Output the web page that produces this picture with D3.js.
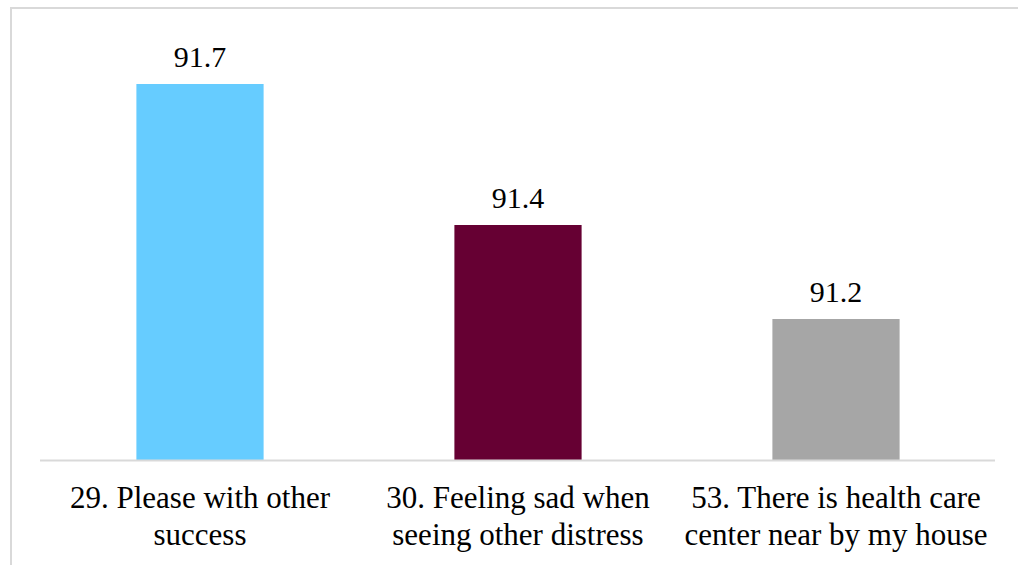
<!DOCTYPE html>
<html>
<head>
<meta charset="utf-8">
<script src="https://cdn.jsdelivr.net/npm/d3@7"></script>
<style>
  html, body { margin: 0; padding: 0; background: #fff; overflow: hidden; }
  svg { display: block; }
  text { font-family: "Liberation Serif", "Times New Roman", serif; fill: #000; }
</style>
</head>
<body>
<svg id="chart" width="1018" height="565"></svg>
<script>
// Share of respondents agreeing with each statement (%)
const categories = [
  ["29. Please with other", "success"],
  ["30. Feeling sad when", "seeing other distress"],
  ["53. There is health care", "center near by my house"]
];
const values = [91.7, 91.4, 91.2];
const colors = ["#66ccff", "#660033", "#a6a6a6"];

const svg = d3.select("#chart");

// Chart frame (continues past the right and bottom edges)
svg.append("rect")
  .attr("x", 11).attr("y", 8)
  .attr("width", 1040).attr("height", 600)
  .attr("fill", "#fff")
  .attr("stroke", "#d9d9d9").attr("stroke-width", 2);

const plot = { left: 41, right: 995, top: 37, bottom: 460 };

const x = d3.scaleBand()
  .domain(d3.range(values.length))
  .range([plot.left, plot.right])
  .paddingInner(0.6)
  .paddingOuter(0.3);

const y = d3.scaleLinear()
  .domain([90.9, 91.8])
  .range([plot.bottom, plot.top]);

// Bars
svg.append("g").selectAll("rect")
  .data(values)
  .join("rect")
  .attr("x", (d, i) => x(i))
  .attr("y", d => y(d))
  .attr("width", x.bandwidth())
  .attr("height", d => y.range()[0] - y(d))
  .attr("fill", (d, i) => colors[i]);

// Category axis line
svg.append("line")
  .attr("x1", plot.left - 1).attr("x2", plot.right)
  .attr("y1", plot.bottom + 0.5).attr("y2", plot.bottom + 0.5)
  .attr("stroke", "#d9d9d9").attr("stroke-width", 2);

// Value labels
svg.append("g").selectAll("text")
  .data(values)
  .join("text")
  .attr("x", (d, i) => x(i) + x.bandwidth() / 2)
  .attr("y", d => y(d) - 17)
  .attr("text-anchor", "middle")
  .attr("font-size", 30)
  .text(d => d.toFixed(1));

// Category labels (two lines each)
const cat = svg.append("g").selectAll("text")
  .data(categories)
  .join("text")
  .attr("text-anchor", "middle")
  .attr("font-size", 31)
  .attr("x", (d, i) => x(i) + x.bandwidth() / 2)
  .attr("y", plot.bottom + 48);
cat.selectAll("tspan")
  .data(d => d)
  .join("tspan")
  .attr("x", function () { return d3.select(this.parentNode).attr("x"); })
  .attr("dy", (d, j) => j === 0 ? 0 : 37)
  .text(d => d);
</script>
</body>
</html>
